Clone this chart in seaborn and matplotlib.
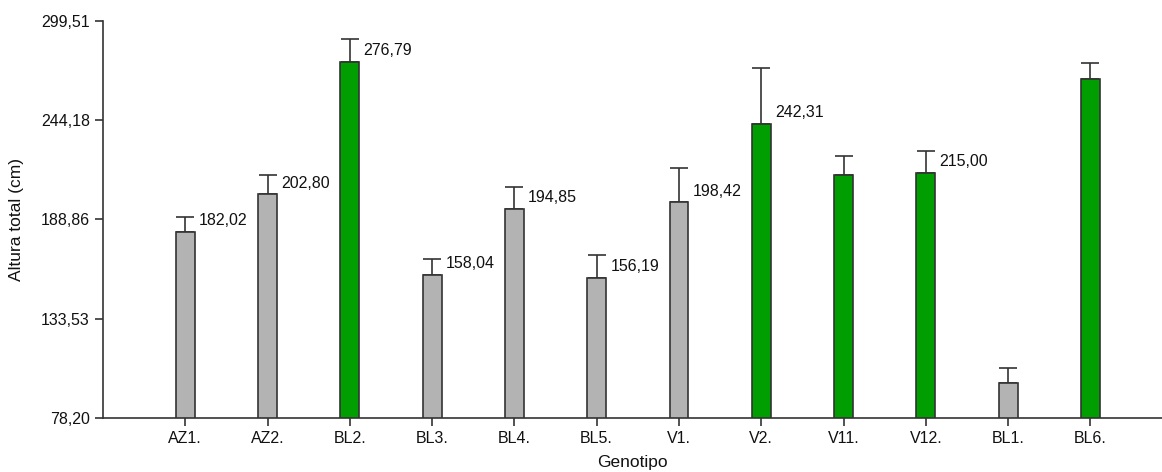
import matplotlib
matplotlib.use("Agg")
import matplotlib.pyplot as plt
import seaborn as sns
import pandas as pd

# Genotypes and their mean total height (cm) with the upper error amount
genotipos = ["AZ1.", "AZ2.", "BL2.", "BL3.", "BL4.", "BL5.",
             "V1.", "V2.", "V11.", "V12.", "BL1.", "BL6."]
altura = [182.02, 202.80, 276.79, 158.04, 194.85, 156.19,
          198.42, 242.31, 213.6, 215.00, 97.9, 267.3]
erro = [8.0, 10.8, 12.8, 8.7, 12.0, 12.6,
        19.1, 31.2, 10.4, 12.2, 8.4, 8.6]
grupo = ["cinza", "cinza", "verde", "cinza", "cinza", "cinza",
         "cinza", "verde", "verde", "verde", "cinza", "verde"]
rotulos = ["182,02", "202,80", "276,79", "158,04", "194,85", "156,19",
           "198,42", "242,31", None, "215,00", None, None]
y_ticks = [78.20, 133.53, 188.86, 244.18, 299.51]
y_tick_labels = ["78,20", "133,53", "188,86", "244,18", "299,51"]

cores = {"cinza": "#b3b3b3", "verde": "#009e00"}
escuro = "#333333"

df = pd.DataFrame({"Genotipo": genotipos, "Altura": altura, "Grupo": grupo})

sns.set_theme(style="ticks")
plt.rcParams["font.family"] = ["Liberation Sans", "DejaVu Sans"]

fig = plt.figure(figsize=(11.62, 4.72), dpi=100)
ax = fig.add_axes([0.0886, 0.1144, 0.9114, 0.8411])

bar_w = 0.23
sns.barplot(data=df, x="Genotipo", y="Altura", hue="Grupo", palette=cores,
            dodge=False, width=bar_w, saturation=1, edgecolor=escuro,
            linewidth=1.2, legend=False, errorbar=None, ax=ax, zorder=2)

xs = list(range(len(genotipos)))
ax.errorbar(xs, altura, yerr=[[0] * len(erro), erro], fmt="none",
            ecolor=escuro, elinewidth=1.2, capsize=6.7, capthick=1.2, zorder=1)

# value labels to the right of the bars
for i, (v, lab) in enumerate(zip(altura, rotulos)):
    if lab is None:
        continue
    ax.annotate(lab, xy=(i + bar_w / 2, v + 6.2), xytext=(3, 0),
                textcoords="offset points", ha="left", va="center",
                fontsize=11.5, color="#111111")

ax.set_ylim(y_ticks[0], y_ticks[-1])
ax.set_xlim(-1, 11.87)
ax.set_yticks(y_ticks)
ax.set_yticklabels(y_tick_labels)
ax.tick_params(axis="both", labelsize=11.5, colors=escuro, labelcolor="#111111",
               length=6, width=1.2)
ax.set_xlabel("Genotipo", fontsize=12.5, color="#111111", labelpad=6)
ax.set_ylabel("Altura total (cm)", fontsize=12.5, color="#111111", labelpad=12)

for s in ["top", "right"]:
    ax.spines[s].set_visible(False)
for s in ["left", "bottom"]:
    ax.spines[s].set_color(escuro)
    ax.spines[s].set_linewidth(1.2)

fig.savefig("out.png", dpi=100)
